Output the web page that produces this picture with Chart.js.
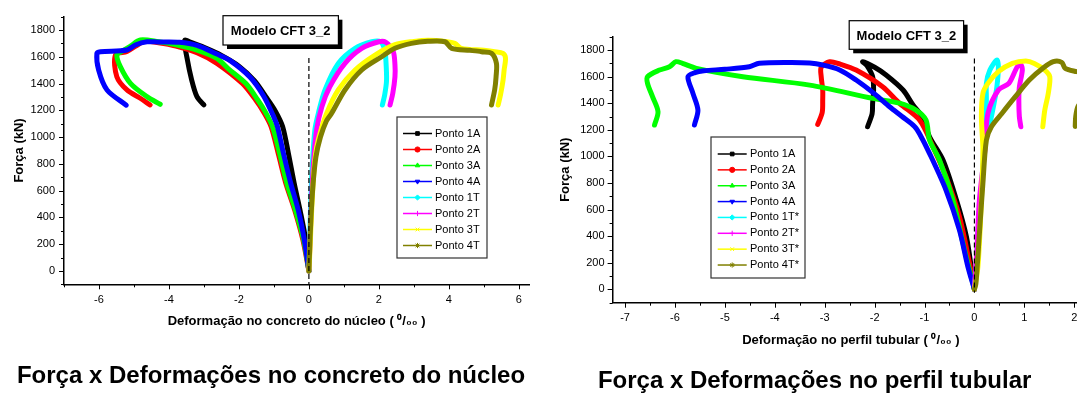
<!DOCTYPE html>
<html>
<head>
<meta charset="utf-8">
<script src="https://cdn.jsdelivr.net/npm/chart.js@4.4.0/dist/chart.umd.min.js"></script>
<style>
  html, body { margin: 0; padding: 0; background: #fff; overflow: hidden; width: 1077px; height: 394px; }
  canvas { position: absolute; top: 0; }
  #graficoNucleo { left: 0; }
  #graficoPerfil { left: 540px; }
</style>
</head>
<body>
<canvas id="graficoNucleo" width="542" height="394"></canvas>
<canvas id="graficoPerfil" width="550" height="394"></canvas>
<script>
// --- dados: [deformação (0/00), força (kN)] ---
// concreto do núcleo
var nucleo1A = [[0,0],[-0.09,230],[-0.25,450],[-0.42,655],[-0.58,870],[-0.75,1078],[-0.95,1190],[-1.2,1290],[-1.55,1420],[-2.0,1530],[-2.5,1610],[-3.0,1670],[-3.35,1705],[-3.55,1722],[-3.49,1600],[-3.35,1426],[-3.2,1302],[-3.0,1240]];
var nucleo2A = [[0,0],[-0.17,230],[-0.4,450],[-0.66,655],[-0.87,870],[-1.08,1078],[-1.3,1190],[-1.52,1277],[-1.9,1400],[-2.63,1551],[-3.2,1630],[-3.8,1680],[-4.3,1705],[-4.7,1715],[-4.95,1680],[-5.2,1640],[-5.53,1612],[-5.49,1451],[-5.2,1352],[-4.82,1290],[-4.54,1240]];
var nucleo3A = [[0,0],[-0.15,230],[-0.38,450],[-0.63,655],[-0.83,870],[-1.04,1078],[-1.25,1190],[-1.46,1277],[-1.8,1400],[-2.3,1510],[-2.63,1588],[-3.2,1650],[-3.8,1690],[-4.3,1712],[-4.82,1725],[-5.1,1680],[-5.35,1640],[-5.49,1613],[-5.39,1526],[-5.1,1401],[-4.63,1302],[-4.25,1245]];
var nucleo4A = [[0,0],[-0.13,230],[-0.3,450],[-0.52,655],[-0.72,870],[-0.9,1078],[-1.02,1160],[-1.3,1309],[-1.68,1447],[-2.25,1571],[-2.63,1620],[-3.2,1685],[-3.7,1708],[-4.3,1710],[-4.63,1712],[-4.96,1688],[-5.2,1650],[-5.96,1638],[-6.06,1626],[-6.01,1501],[-5.77,1352],[-5.22,1238]];
var nucleo1T = [[0,0],[0.02,200],[0.05,500],[0.1,800],[0.17,1053],[0.27,1178],[0.46,1352],[0.84,1550],[1.32,1663],[1.8,1712],[2.05,1712],[2.17,1650],[2.2,1576],[2.22,1426],[2.17,1320],[2.1,1240]];
var nucleo2T = [[0,0],[0.03,200],[0.07,500],[0.13,800],[0.22,1053],[0.37,1227],[0.6,1377],[1.03,1551],[1.51,1663],[2.0,1712],[2.2,1708],[2.41,1640],[2.46,1540],[2.46,1451],[2.4,1330],[2.32,1240]];
var nucleo3T = [[0,0],[0.03,150],[0.07,400],[0.12,650],[0.18,850],[0.27,980],[0.51,1178],[0.84,1352],[1.32,1501],[1.89,1613],[2.46,1690],[3.0,1715],[3.41,1724],[3.9,1715],[4.17,1700],[4.36,1663],[5.0,1648],[5.31,1638],[5.55,1625],[5.62,1590],[5.58,1500],[5.55,1426],[5.48,1320],[5.41,1240]];
var nucleo4T = [[0,0],[0.02,150],[0.06,400],[0.12,650],[0.2,850],[0.33,1000],[0.5,1120],[0.65,1178],[1.03,1352],[1.51,1501],[2.08,1600],[2.46,1663],[2.93,1700],[3.4,1715],[3.89,1712],[4.08,1663],[4.6,1648],[4.93,1638],[5.22,1626],[5.36,1551],[5.35,1450],[5.31,1352],[5.22,1240]];

// perfil tubular
var perfil1A = [[0,0],[-0.05,130],[-0.16,396],[-0.36,672],[-0.63,973],[-0.9,1148],[-1.05,1300],[-1.23,1386],[-1.43,1499],[-1.77,1612],[-2.0,1670],[-2.24,1712],[-2.15,1680],[-2.04,1599],[-2.02,1500],[-2.04,1399],[-2.05,1320],[-2.14,1223]];
var perfil2A = [[0,0],[-0.1,200],[-0.3,546],[-0.57,847],[-0.83,1072],[-1.1,1273],[-1.5,1399],[-1.84,1524],[-2.37,1649],[-2.7,1695],[-2.9,1712],[-3.07,1670],[-3.07,1599],[-3.04,1500],[-3.04,1424],[-3.05,1330],[-3.14,1240]];
var perfil3A = [[0,0],[-0.2,300],[-0.43,672],[-0.7,973],[-0.9,1123],[-0.97,1273],[-1.17,1348],[-1.5,1400],[-2.04,1436],[-3.3,1536],[-4.64,1599],[-5.57,1662],[-5.85,1700],[-5.98,1712],[-6.11,1674],[-6.31,1649],[-6.55,1599],[-6.55,1549],[-6.45,1449],[-6.34,1336],[-6.41,1236]];
var perfil4A = [[0,0],[-0.13,170],[-0.3,446],[-0.57,747],[-0.9,1023],[-1.1,1170],[-1.2,1225],[-1.45,1300],[-1.7,1373],[-2.0,1470],[-2.37,1574],[-2.7,1650],[-3.04,1687],[-3.3,1702],[-3.71,1706],[-4.31,1700],[-4.51,1674],[-5.0,1655],[-5.42,1644],[-5.6,1630],[-5.74,1599],[-5.64,1474],[-5.54,1348],[-5.61,1236]];
var perfil1T = [[0,0],[0.04,200],[0.07,421],[0.17,922],[0.21,1173],[0.24,1424],[0.24,1549],[0.31,1649],[0.45,1724],[0.48,1674],[0.45,1524],[0.38,1373],[0.31,1248],[0.28,1215]];
var perfil2T = [[0,0],[0.05,300],[0.1,672],[0.21,1048],[0.27,1323],[0.48,1499],[0.69,1549],[0.86,1674],[0.93,1690],[0.96,1649],[0.9,1520],[0.89,1424],[0.9,1300],[0.93,1223]];
var perfil3T = [[0,0],[0.07,170],[0.14,672],[0.17,1048],[0.14,1298],[0.17,1474],[0.27,1549],[0.48,1637],[0.76,1699],[1.03,1717],[1.2,1699],[1.41,1649],[1.51,1599],[1.48,1474],[1.41,1348],[1.37,1223]];
var perfil4T = [[0,0],[0.03,45],[0.1,421],[0.17,797],[0.24,1123],[0.34,1223],[0.55,1323],[0.82,1449],[1.1,1574],[1.37,1662],[1.58,1712],[1.75,1707],[1.82,1662],[2.05,1637],[2.2,1625],[2.3,1580],[2.25,1450],[2.08,1380],[2.03,1300],[2.02,1225]];

// linha tracejada em deformação zero
var zeroNucleo = [[0,1590],[0,-100]];
var zeroPerfil = [[0,1737],[0,-25]];

var rotulosNucleo = ['Ponto 1A','Ponto 2A','Ponto 3A','Ponto 4A','Ponto 1T','Ponto 2T','Ponto 3T','Ponto 4T'];
var rotulosPerfil = ['Ponto 1A','Ponto 2A','Ponto 3A','Ponto 4A','Ponto 1T*','Ponto 2T*','Ponto 3T*','Ponto 4T*'];

// rótulos dos eixos
var forcaRotulos = [0,200,400,600,800,1000,1200,1400,1600,1800];
var nucleoXRotulos = [-6,-4,-2,0,2,4,6];
var perfilXRotulos = [-7,-6,-5,-4,-3,-2,-1,0,1,2];

var FONTE = "'Liberation Sans', Arial, Helvetica, sans-serif";
var cores = ['#000000','#ff0000','#00ff00','#0000ff','#00ffff','#ff00ff','#ffff00','#808000'];
var marcadores = ['rect','circle','triangle','triangle','rectRot','cross','crossRot','star'];
var rotacoes = [0,0,0,180,0,0,0,0];

function temRotulo(lista, v) {
    for (var i = 0; i < lista.length; i++) {
        if (Math.abs(lista[i] - v) < 1e-6) return true;
    }
    return false;
}

function montaDatasets(series, rotulos, tracejado) {
    var ds = series.map(function(pts, i) {
        return {
            label: rotulos[i],
            data: pts.map(function(p) { return { x: p[0], y: p[1] }; }),
            borderColor: cores[i],
            backgroundColor: cores[i],
            borderWidth: 5,
            borderCapStyle: 'round',
            borderJoinStyle: 'round',
            tension: 0.3,
            pointRadius: 0,
            pointHoverRadius: 0,
            pointStyle: marcadores[i],
            pointRotation: rotacoes[i],
            order: series.length - i // o último da lista fica por cima
        };
    });
    ds.push({
        label: '',
        guia: true,
        data: tracejado.map(function(p) { return { x: p[0], y: p[1] }; }),
        borderColor: '#000',
        borderWidth: 1.2,
        borderDash: [5, 3],
        pointRadius: 0,
        tension: 0,
        order: 0
    });
    return ds;
}

// --- marcas dos eixos (maiores nos rótulos, menores entre eles) ---
var marcasEixos = {
    id: 'marcasEixos',
    afterDraw: function(chart) {
        var ctx = chart.ctx, sx = chart.scales.x, sy = chart.scales.y;
        ctx.save();
        ctx.strokeStyle = '#000';
        ctx.lineWidth = 1;
        sx.ticks.forEach(function(t) {
            var px = Math.round(sx.getPixelForValue(t.value)) + 0.5;
            var len = t.label !== '' ? 5 : 3;
            ctx.beginPath(); ctx.moveTo(px, sx.top); ctx.lineTo(px, sx.top + len); ctx.stroke();
        });
        sy.ticks.forEach(function(t) {
            var py = Math.round(sy.getPixelForValue(t.value)) + 0.5;
            var len = t.label !== '' ? 5 : 3;
            ctx.beginPath(); ctx.moveTo(sy.right - len, py); ctx.lineTo(sy.right, py); ctx.stroke();
        });
        ctx.restore();
    }
};

// --- caixa "Modelo CFT 3_2" com sombra ---
var caixaModelo = {
    id: 'caixaModelo',
    afterDraw: function(chart, args, o) {
        var ctx = chart.ctx;
        ctx.save();
        ctx.fillStyle = '#000';
        ctx.fillRect(o.x + 4, o.y + 4, o.w, o.h);
        ctx.fillStyle = '#fff';
        ctx.fillRect(o.x, o.y, o.w, o.h);
        ctx.strokeStyle = '#000';
        ctx.lineWidth = 1.2;
        ctx.strokeRect(o.x, o.y, o.w, o.h);
        ctx.fillStyle = '#000';
        ctx.font = 'bold 13px ' + FONTE;
        ctx.textAlign = 'center';
        ctx.textBaseline = 'middle';
        ctx.fillText(o.texto, o.x + o.w / 2, o.y + o.h / 2 + 1);
        ctx.restore();
    }
};

// --- legenda dentro da área do gráfico ---
var legendaPontos = {
    id: 'legendaPontos',
    afterDraw: function(chart, args, o) {
        var ctx = chart.ctx;
        ctx.save();
        ctx.fillStyle = '#fff';
        ctx.fillRect(o.x, o.y, o.w, o.h);
        ctx.strokeStyle = '#333';
        ctx.lineWidth = 1.2;
        ctx.strokeRect(o.x, o.y, o.w, o.h);
        ctx.font = '11px ' + FONTE;
        ctx.textBaseline = 'middle';
        ctx.textAlign = 'left';
        var n = 0;
        chart.data.datasets.forEach(function(ds) {
            if (ds.guia) return;
            var cy = o.y + o.primeira + n * o.passo;
            var x0 = o.x + o.linhaIni, xm = x0 + o.linhaLen / 2;
            n++;
            ctx.strokeStyle = ds.borderColor;
            ctx.lineWidth = 1.5;
            ctx.beginPath(); ctx.moveTo(x0, cy); ctx.lineTo(x0 + o.linhaLen, cy); ctx.stroke();
            ctx.fillStyle = ds.borderColor;
            ctx.lineWidth = 1;
            if (Chart.helpers && Chart.helpers.drawPoint) {
                Chart.helpers.drawPoint(ctx, { pointStyle: ds.pointStyle, rotation: ds.pointRotation, radius: 2.6, borderWidth: 1 }, xm, cy);
            } else {
                ctx.fillRect(xm - 2, cy - 2, 4, 4);
            }
            ctx.fillStyle = '#000';
            ctx.fillText(ds.label, o.x + o.textoX, cy);
        });
        ctx.restore();
    }
};

function criaGrafico(idCanvas, cfg) {
    return new Chart(document.getElementById(idCanvas), {
        type: 'line',
        data: { datasets: montaDatasets(cfg.series, cfg.rotulos, cfg.tracejado) },
        options: {
            responsive: false,
            animation: false,
            events: [],
            layout: { padding: cfg.margem },
            plugins: {
                legend: { display: false },
                tooltip: { enabled: false },
                title: {
                    display: true,
                    position: 'bottom',
                    text: cfg.legenda,
                    color: '#000',
                    font: { family: FONTE, size: 24, weight: 'bold', lineHeight: 1 },
                    padding: { top: 0, bottom: cfg.legendaPad }
                },
                caixaModelo: cfg.caixa,
                legendaPontos: cfg.quadro
            },
            scales: {
                x: {
                    type: 'linear',
                    position: 'bottom',
                    min: cfg.xMin,
                    max: cfg.xMax,
                    ticks: {
                        stepSize: cfg.xPasso,
                        includeBounds: false,
                        autoSkip: false,
                        maxRotation: 0,
                        padding: 9,
                        color: '#000',
                        font: { family: FONTE, size: 11 },
                        callback: function(v) { return temRotulo(cfg.xRotulos, v) ? String(Math.round(v)) : ''; }
                    },
                    grid: { display: false, drawTicks: false },
                    border: { display: true, color: '#000', width: 1.5 },
                    title: {
                        display: true,
                        text: cfg.xTitulo,
                        color: '#000',
                        font: { family: FONTE, size: 13, weight: 'bold', lineHeight: 1.2 },
                        padding: { top: 0, bottom: cfg.xTituloPad }
                    },
                    afterFit: function(s) { s.height = cfg.xAltura; }
                },
                y: {
                    type: 'linear',
                    min: -100,
                    max: 1900,
                    ticks: {
                        stepSize: 100,
                        includeBounds: false,
                        autoSkip: false,
                        padding: cfg.yPad,
                        color: '#000',
                        font: { family: FONTE, size: 11 },
                        callback: function(v) { return temRotulo(forcaRotulos, v) ? String(v) : ''; }
                    },
                    grid: { display: false, drawTicks: false },
                    border: { display: true, color: '#000', width: 1.5 },
                    title: {
                        display: true,
                        text: 'Força (kN)',
                        color: '#000',
                        font: { family: FONTE, size: 13, weight: 'bold', lineHeight: 1 },
                        padding: { top: cfg.yTituloPad, bottom: 0 }
                    },
                    afterFit: function(s) { s.width = cfg.yLargura; }
                }
            }
        },
        plugins: [marcasEixos, caixaModelo, legendaPontos]
    });
}

// --- gráfico 1: concreto do núcleo ---
criaGrafico('graficoNucleo', {
    series: [nucleo1A, nucleo2A, nucleo3A, nucleo4A, nucleo1T, nucleo2T, nucleo3T, nucleo4T],
    rotulos: rotulosNucleo,
    tracejado: zeroNucleo,
    legenda: 'Força x Deformações no concreto do núcleo',
    legendaPad: 5.5,
    margem: { left: 12.7, right: 12.7, top: 16.6, bottom: 0 },
    xMin: -7, xMax: 6.3, xPasso: 1, xRotulos: nucleoXRotulos,
    xTitulo: 'Deformação no concreto do núcleo ( \u2070/\u2080\u2080 )',
    xTituloPad: 35, xAltura: 80.2,
    yPad: 9, yTituloPad: 0, yLargura: 51.3,
    caixa: { x: 223, y: 15.7, w: 115.4, h: 29.3, texto: 'Modelo CFT 3_2' },
    quadro: { x: 397, y: 117, w: 90, h: 141, primeira: 16.5, passo: 16, linhaIni: 6, linhaLen: 29, textoX: 38 }
});

// --- gráfico 2: perfil tubular ---
criaGrafico('graficoPerfil', {
    series: [perfil1A, perfil2A, perfil3A, perfil4A, perfil1T, perfil2T, perfil3T, perfil4T],
    rotulos: rotulosPerfil,
    tracejado: zeroPerfil,
    legenda: 'Força x Deformações no perfil tubular',
    legendaPad: 1,
    margem: { left: 0, right: 0.8, top: 36.7, bottom: 0 },
    xMin: -7.25, xMax: 2.3, xPasso: 0.5, xRotulos: perfilXRotulos,
    xTitulo: 'Deformação no perfil tubular ( \u2070/\u2080\u2080 )',
    xTituloPad: 21.2, xAltura: 66.3,
    yPad: 8, yTituloPad: 19.2, yLargura: 72.6,
    caixa: { x: 309.2, y: 20.7, w: 114.4, h: 28.6, texto: 'Modelo CFT 3_2' },
    quadro: { x: 171, y: 137, w: 94, h: 141, primeira: 17, passo: 15.86, linhaIni: 6.7, linhaLen: 29, textoX: 39 }
});
</script>
</body>
</html>
